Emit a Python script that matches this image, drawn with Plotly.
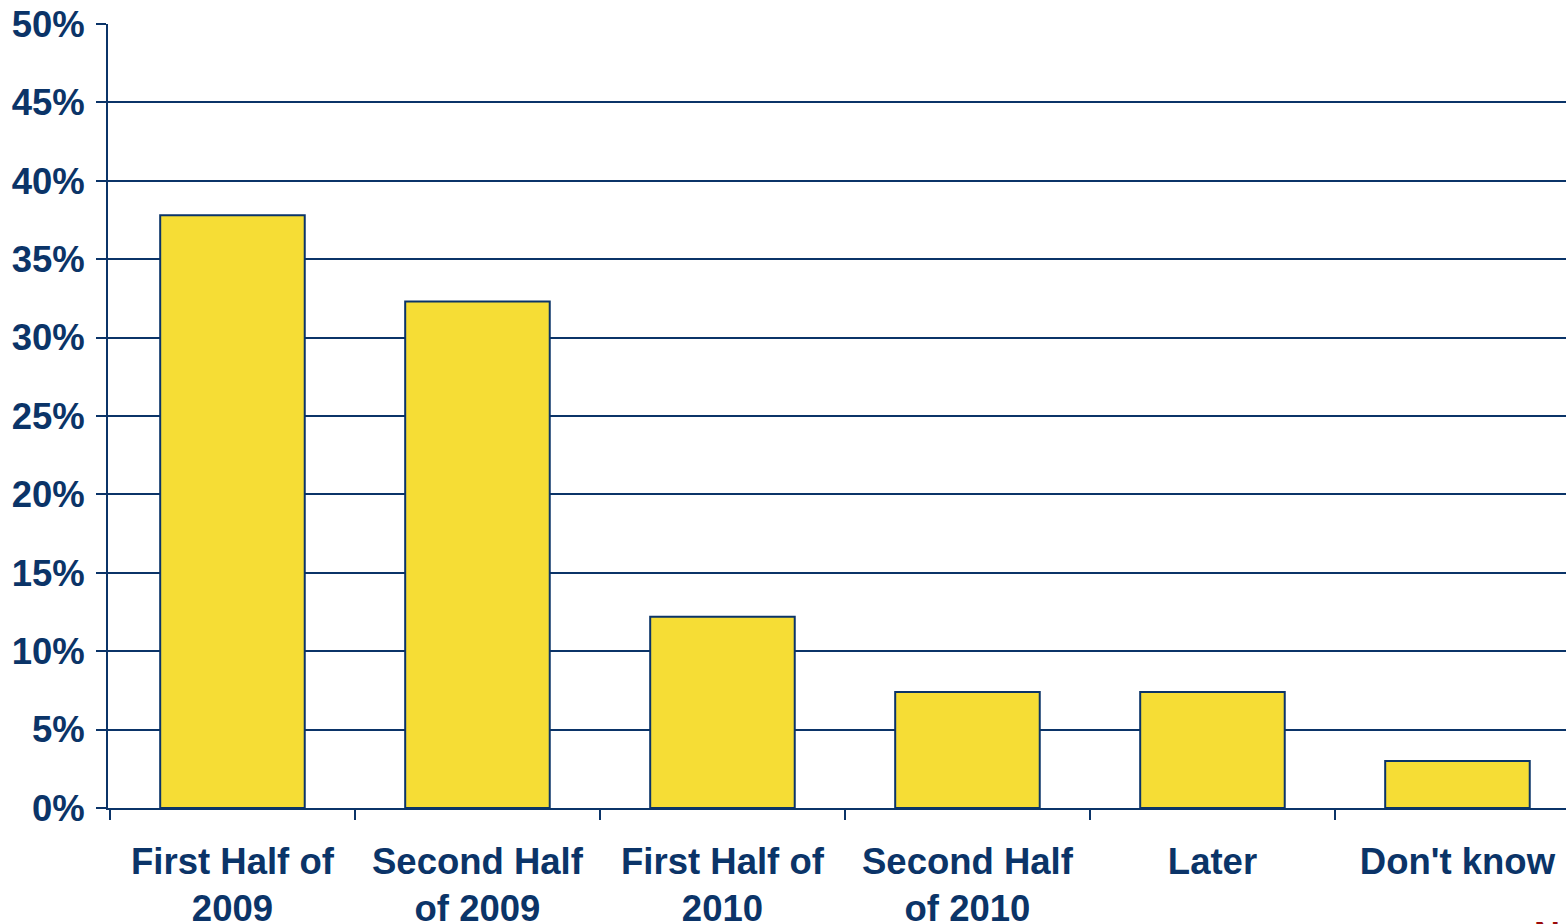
import plotly.graph_objects as go

categories = ["First Half of<br>2009", "Second Half<br>of 2009", "First Half of<br>2010",
              "Second Half<br>of 2010", "Later", "Don't know"]
values = [0.378, 0.323, 0.122, 0.074, 0.074, 0.030]
y_ticks = [0, 0.05, 0.10, 0.15, 0.20, 0.25, 0.30, 0.35, 0.40, 0.45, 0.50]

navy = "#0B3468"
yellow = "#F6DD35"
font = dict(family="Liberation Sans, Arial, sans-serif", size=36.5, color=navy, weight="bold")

fig = go.Figure()
fig.add_trace(go.Bar(
    x=categories, y=values, width=0.59,
    marker=dict(color=yellow, line=dict(color=navy, width=2)),
    showlegend=False, hoverinfo="skip"
))

fig.update_layout(
    width=1566, height=924,
    margin=dict(l=108, r=0, t=24, b=116),
    paper_bgcolor="white", plot_bgcolor="white",
    font=font,
)
fig.update_xaxes(
    range=[-0.508, 5.443], tickson="boundaries", automargin=False,
    ticks="outside", ticklen=10, tickwidth=2, tickcolor=navy,
    showline=True, linecolor=navy, linewidth=2,
    tickfont=font, ticklabelstandoff=20, showgrid=False,
)
fig.update_yaxes(
    range=[0, 0.5], tickvals=y_ticks, tickformat=".0%", automargin=False,
    ticks="outside", ticklen=10, tickwidth=2, tickcolor=navy,
    showline=True, linecolor=navy, linewidth=2,
    showgrid=True, gridcolor=navy, gridwidth=2,
    tickfont=font, ticklabelstandoff=4, zeroline=False,
)

# partly cut-off red letter at the bottom right, as in the source
fig.add_annotation(
    text="N", xref="paper", yref="paper", x=0.977, y=-0.134,
    xanchor="left", yanchor="top", showarrow=False,
    font=dict(family="Liberation Sans, Arial, sans-serif", size=36, color="#9B0A0A", weight="bold"),
)

# drop the default page margin so the figure sits at the window's corner
fig.write_html("out.html", config={"displayModeBar": False},
               post_script="document.body.style.margin='0';document.body.style.overflow='hidden';")
